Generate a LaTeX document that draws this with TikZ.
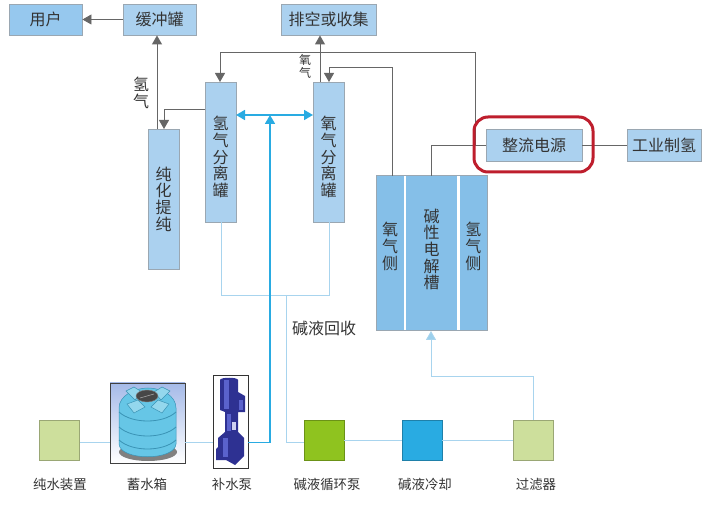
\documentclass[tikz,border=0pt]{standalone}
\usepackage{fontspec}
\setmainfont{Noto Sans CJK SC}
\usetikzlibrary{arrows.meta,shapes,backgrounds}
\definecolor{boxblue}{HTML}{ABD1EF}
\definecolor{userblue}{HTML}{96C8EE}
\definecolor{cellblue}{HTML}{85BFE8}
\definecolor{boxline}{HTML}{9AA7B2}
\definecolor{gasgrey}{HTML}{666666}
\definecolor{palefeed}{HTML}{A8D4EE}
\definecolor{feedblue}{HTML}{29ABE2}
\definecolor{padgreen}{HTML}{CDDF9C}
\definecolor{pumpgreen}{HTML}{8FC31F}
\definecolor{ringred}{HTML}{BE1E2D}
\definecolor{txt}{HTML}{333333}
\definecolor{tankblue}{HTML}{66C6E6}
\definecolor{tankdark}{HTML}{3A93B5}
\definecolor{tanksky}{HTML}{A5BAE8}
\definecolor{pumpblue}{HTML}{2E3192}
\definecolor{pumpmid}{HTML}{5A62CC}
\tikzset{
  every node/.style={text=txt, inner sep=0pt, align=center},
  >={Triangle[length=9pt,width=10pt]},
  tag/.style={font=\fontsize{16}{16.7}\selectfont},
  small tag/.style={font=\fontsize{13.4}{15}\selectfont},
  tiny tag/.style={font=\fontsize{12}{13}\selectfont},
  unit/.style={draw=boxline, line width=0.9pt, fill=boxblue, minimum width=#1, tag},
  unit/.default=73pt,
  lowbox/.style={minimum width=40pt, minimum height=40pt, draw=#1!75!black, fill=#1, line width=0.9pt},
  gasline/.style={draw=gasgrey, line width=0.9pt},
  paleline/.style={draw=palefeed, line width=0.9pt},
  feedline/.style={draw=feedblue, line width=1.7pt},
}
\begin{document}
\begin{tikzpicture}[x=1pt,y=-1pt]
  \useasboundingbox (0,0) rectangle (720,510);
  % top row
  \node (user) [unit, fill=userblue, minimum height=31pt] at (45.5,19.5) {用户};
  \node (buffer) [unit, minimum height=31pt] at (159.5,19.5) {缓冲罐};
  \node (vent) [unit=95pt, minimum height=31pt] at (328.5,19.5) {排空或收集};
  % tanks
  \node (hsep) [unit=31pt, minimum height=140pt, label={[tag,yshift=-5pt]center:氢\\气\\分\\离\\罐}] at (220.5,152) {};
  \node (osep) [unit=31pt, minimum height=140pt, label={[tag,yshift=-5pt]center:氧\\气\\分\\离\\罐}] at (328.5,152) {};
  \node (purify) [unit=31pt, minimum height=140pt] at (163.5,199) {纯\\化\\提\\纯};
  % power
  \node (rectifier) [unit=96pt, minimum height=32pt] at (534,145) {整流电源};
  \node (industry) [unit=74pt, minimum height=32pt] at (664,145) {工业制氢};
  % electrolyser
  \node (cell) [draw=boxline, line width=1pt, fill=white, minimum width=111pt, minimum height=155pt] at (431.5,253.5) {};
  \node (oside) [fill=cellblue, minimum width=27pt, minimum height=154pt, label={[tag,yshift=7pt]center:氧\\气\\侧}] at (390,253.5) {};
  \node (mid) [fill=cellblue, minimum width=51pt, minimum height=154pt, label={[tag,yshift=4pt]center:碱\\性\\电\\解\\槽}] at (431.5,253.5) {};
  \node (hside) [fill=cellblue, minimum width=27.5pt, minimum height=154pt, label={[tag,yshift=7pt]center:氢\\气\\侧}] at (473.25,253.5) {};
  % gas labels
  \node (hgas) [tag] at (141,93) {氢\\气};
  \node (ogas) [tiny tag] at (305,66) {氧\\气};
  \node (recover) [tag] at (324,328) {碱液回收};
  % bottom row
  \node (puresrc) [lowbox=padgreen] at (59.5,440) {};
  \node (tankbox) [draw=black!75, line width=0.8pt, top color=tanksky, bottom color=white, minimum width=75pt, minimum height=80pt] at (147.5,423) {};
  \node (pump) [draw=black!80, line width=0.8pt, fill=white, minimum width=35pt, minimum height=93pt] at (230.5,421.5) {};
  \node (lyepump) [lowbox=pumpgreen] at (324,440) {};
  \node (cooler) [lowbox=feedblue] at (422,440) {};
  \node (filter) [lowbox=padgreen] at (533,440) {};
  \node [small tag] at (60,484) {纯水装置};
  \node [small tag] at (147,484) {蓄水箱};
  \node [small tag] at (232,484) {补水泵};
  \node [small tag] at (327,484) {碱液循环泵};
  \node [small tag] at (425,484) {碱液冷却};
  \node [small tag] at (536,484) {过滤器};
  % anchor points of the pipes
  \coordinate (hout) at (157,129);
  \coordinate (hin) at (164,129);
  \coordinate (hsepout) at (205,109);
  \coordinate (hret) at (220,82);
  \coordinate (hbus) at (220,52);
  \coordinate (oret) at (329,82);
  \coordinate (obus) at (329,67.5);
  \coordinate (oout) at (320,82);
  \coordinate (cello) at (392,176);
  \coordinate (cellp) at (431,176);
  \coordinate (tap) at (475,145);
  \coordinate (hmix) at (236,115);
  \coordinate (omix) at (313,115);
  \coordinate (mixup) at (270,115);
  \coordinate (hdrain) at (221,222);
  \coordinate (odrain) at (329,222);
  \coordinate (drainh) at (221,295);
  \coordinate (drainj) at (286,295);
  \coordinate (feedin) at (431,331);
  \coordinate (feedbend) at (431,376);
  \coordinate (filterup) at (533,420);
  \coordinate (lowpipe) at (0,442.5);
  % gas side
  \draw [gasline, ->] (buffer) -- (user);
  \draw [gasline, ->] (hout) -- (hout |- buffer.south);
  \draw [gasline, ->] (hsepout) -| (hin);
  \draw [gasline, ->] (oout) -- (oout |- vent.south);
  \draw [gasline, ->] (tap) -- (tap |- hbus) -- (hbus) -- (hret);
  \draw [gasline, ->] (cello) -- (cello |- obus) -- (obus) -- (oret);
  \draw [gasline] (rectifier.west) -| (cellp);
  \draw [gasline] (rectifier) -- (industry);
  % lye side
  \draw [paleline] (puresrc.east |- lowpipe) -- (tankbox.west |- lowpipe);
  \draw [paleline] (tankbox.east |- lowpipe) -- (pump.west |- lowpipe);
  \draw [paleline] (hdrain) -- (drainh) -| (odrain);
  \draw [paleline] (drainj) |- (lyepump.west |- lowpipe);
  \draw [paleline] (lyepump) -- (cooler);
  \draw [paleline] (cooler) -- (filter);
  \draw [paleline, ->, >={Triangle[length=9pt,width=10pt,fill=palefeed!90!feedblue]}] (filterup) -- (filterup |- feedbend) -- (feedbend) -- (feedin);
  \draw [feedline, <->] (hmix) -- (omix);
  \draw [feedline, ->] (pump.east |- lowpipe) -- (mixup |- lowpipe) -- (mixup);
  % ring
  \node (ring) [draw=ringred, line width=3pt, rounded corners=14pt, minimum width=119pt, minimum height=55pt] at (533.5,144.5) {};
  % tank
  \fill [gray] (148,452) ellipse [x radius=29, y radius=9];
  \draw [tankdark, fill=tankblue, line width=0.5pt] (119,408) -- (119,444) .. controls (120,461) and (175,461) .. (176,444) -- (176,408) .. controls (176,396) and (162,388) .. (148,388) .. controls (134,388) and (119,396) .. (119,408) -- cycle;
  \foreach \y in {412,427,440} \draw [tankdark, line width=0.8pt] (119,\y) .. controls (132,\y+12) and (163,\y+12) .. (176,\y);
  \foreach \x/\s in {126/1,170/-1} {
    \draw [tankdark, fill=tankblue!70!white, line width=0.5pt] (\x,391) -- (\x+\s*8,387) -- (\x+\s*16,392) -- (\x+\s*9,400) -- cycle;
    \draw [tankdark, fill=tankblue!70!white, line width=0.5pt] (\x+\s*1,404) -- (\x+\s*12,400) -- (\x+\s*19,407) -- (\x+\s*8,413) -- cycle;
  }
  \draw [black!50, fill=black!72, line width=0.4pt] (147,396) ellipse [x radius=11, y radius=6];
  \draw [black!35, line width=0.6pt] (140,398) -- (154,394);
  % pump
  \fill [pumpblue] (220,380) .. controls (220,377) and (238,377) .. (238,380) -- (238,392) -- (245,396) -- (245,412) -- (238,412) -- (238,432) -- (244,438) -- (244,456) -- (235,465) -- (226,460) -- (216,460) -- (216,449) -- (218,447) -- (218,438) -- (225,432) -- (225,412) -- (220,410) -- cycle;
  \fill [pumpmid] (224,380) rectangle (229,409);
  \fill [pumpmid] (227,414) rectangle (231,431);
  \fill [white!70!pumpmid] (232,422) rectangle (236,430);
  \fill [pumpmid] (223,438) rectangle (228,457);
  \fill [pumpmid] (239,400) rectangle (243,410);
\end{tikzpicture}
\end{document}
